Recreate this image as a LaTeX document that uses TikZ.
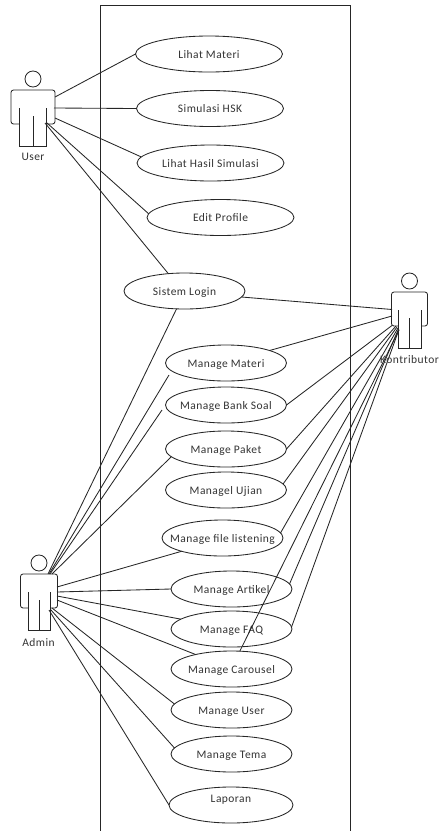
\documentclass[tikz,border=0pt]{standalone}
\usepackage{fontspec}
\setmainfont{Carlito}[LetterSpace=4]
\usetikzlibrary{shapes.geometric}
\newcommand{\uctxt}[1]{\rule[-2pt]{0pt}{12pt}\makebox[0pt]{#1}}
% actor: centre x, head y, body half width, leg half width
\newcommand{\umlactor}[4]{%
  \draw[umlline] (#1,#2) circle[radius=8];
  \draw[umlline,rounded corners=2.5pt] (#1-#4,#2+45) -- (#1-#3,#2+45) -- (#1-#3,#2+11) -- (#1+#3,#2+11) -- (#1+#3,#2+45) -- (#1+#4,#2+45);
  \draw[umlline] (#1-#4,#2+29) -- (#1-#4,#2+67) -- (#1+#4,#2+67) -- (#1+#4,#2+29);
  \draw[umlline] (#1,#2+37) -- (#1,#2+67);
}
\tikzset{
  umlline/.style={draw=black!85,line width=0.85pt},
  usecase/.style={ellipse,draw=black!85,line width=0.85pt,fill=white,inner sep=0pt,outer sep=0pt,
    minimum width=#1,minimum height=36pt,text=black!80,font=\fontsize{11.5}{13}\selectfont},
  usecase/.default=121pt,
  actorname/.style={text=black!80,inner sep=0pt,font=\fontsize{11.5}{13}\selectfont},
  assoc/.style={draw=black!85,line width=0.85pt},
}
\begin{document}
\begin{tikzpicture}[x=1pt,y=-1pt]
\useasboundingbox (0,0) rectangle (439,831);
% system boundary
\coordinate (bl) at (100.5,831);
\coordinate (tl) at (100.5,5.5);
\coordinate (tr) at (350.5,5.5);
\coordinate (br) at (350.5,831);
\draw[umlline,line width=1pt] (bl) -- (tl) -- (tr) -- (br);
% actor ports
\coordinate (u1) at (55,97);
\coordinate (u2) at (54,108);
\coordinate (u3) at (55,118);
\coordinate (u4) at (47,123);
\coordinate (u5) at (45,123);
\coordinate (k1) at (392,309.5);
\coordinate (k2) at (392,316);
\coordinate (k3) at (392,325.5);
\coordinate (k4) at (396,326);
\coordinate (k5) at (397,327);
\coordinate (k6) at (398,328);
\coordinate (k7) at (398.5,329);
\coordinate (k8) at (399,329.5);
\coordinate (k9) at (399,330);
\coordinate (a1) at (48,574);
\coordinate (a2) at (49,574);
\coordinate (a3) at (50,574);
\coordinate (a4) at (52,574);
\coordinate (a5) at (57,587);
\coordinate (a6) at (57,592);
\coordinate (a7) at (57,596);
\coordinate (a8) at (57,600);
\coordinate (a9) at (52,608);
\coordinate (a10) at (51,610);
\coordinate (a11) at (49,610);
\coordinate (materiEnd) at (169,375);
\coordinate (bankEnd) at (162,410);
% use cases
\node[usecase=147pt] (materi) at (209,54) {\uctxt{Lihat Materi}};
\node[usecase=147pt] (hsk) at (210,108.5) {\uctxt{Simulasi HSK}};
\node[usecase=147pt] (hasil) at (210.5,163) {\uctxt{Lihat Hasil Simulasi}};
\node[usecase=147pt] (edit) at (220.5,217.5) {\uctxt{Edit Profile}};
\node[usecase] (login) at (184.5,291) {\uctxt{Sistem Login}};
\node[usecase] (mmateri) at (226,363) {\uctxt{Manage Materi}};
\node[usecase] (mbank) at (226,405) {\uctxt{Manage Bank Soal}};
\node[usecase] (mpaket) at (226,449) {\uctxt{Manage Paket}};
\node[usecase] (mujian) at (226,490) {\uctxt{Managel Ujian}};
\node[usecase] (mfile) at (222.5,538) {\uctxt{Manage file listening}};
\node[usecase] (martikel) at (231.5,589) {\uctxt{Manage Artikel}};
\node[usecase] (mfaq) at (231.5,629) {\uctxt{Manage FAQ}};
\node[usecase] (mcarousel) at (231.5,669) {\uctxt{Manage Carousel}};
\node[usecase] (muser) at (231.5,710) {\uctxt{Manage User}};
\node[usecase] (mtema) at (231.5,754) {\uctxt{Manage Tema}};
\node[usecase=124pt] (laporan) at (231,805) {\uctxt{\raisebox{7pt}[0pt][0pt]{Laporan}}};
% user connectors
\draw[assoc] (u1) -- (materi.west);
\draw[assoc] (u2) -- (hsk.west);
\draw[assoc] (u3) -- (hasil.175);
\draw[assoc] (u4) -- (edit.177);
\draw[assoc] (u5) -- (login.133);
% kontributor connectors
\draw[assoc] (k1) -- (login.-6);
\draw[assoc] (k2) -- (mmateri.16.5);
\draw[assoc] (k3) -- (mbank.east);
\draw[assoc] (k4) -- (mpaket.east);
\draw[assoc] (k5) -- (mujian.6);
\draw[assoc] (k6) -- (mfile.5);
\draw[assoc] (k7) -- (martikel.5);
\draw[assoc] (k8) -- (mfaq.2);
\draw[assoc] (k9) -- (mcarousel.65);
% admin connectors
\draw[assoc] (a1) -- (login.246);
\draw[assoc] (a2) -- (materiEnd);
\draw[assoc] (a3) -- (bankEnd);
\draw[assoc] (a4) -- (mpaket.188);
\draw[assoc] (a5) -- (mfile.198);
\draw[assoc] (a6) -- (martikel.west);
\draw[assoc] (a7) -- (mfaq.169);
\draw[assoc] (a8) -- (mcarousel.158);
\draw[assoc] (a9) -- (muser.174);
\draw[assoc] (a10) -- (mtema.174);
\draw[assoc] (a11) -- (laporan.west);
% actors
\umlactor{33}{79}{22}{13.5}
\umlactor{409.5}{281}{18}{11.5}
\umlactor{39}{563}{18.5}{11}
\node[actorname] (userlabel) at (33,157) {User};
\node[actorname] (kontriblabel) at (409.5,360) {Kontributor};
\node[actorname] (adminlabel) at (38.5,643) {Admin};
\end{tikzpicture}
\end{document}
